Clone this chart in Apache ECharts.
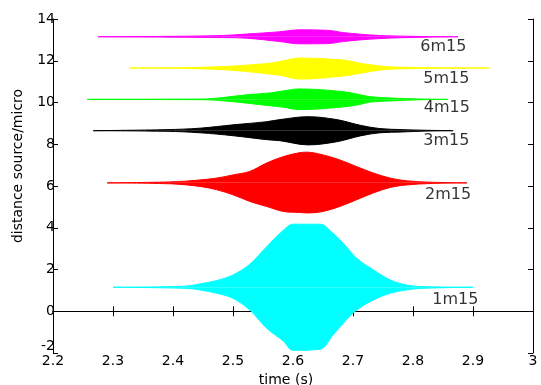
<!DOCTYPE html>
<html>
<head>
<meta charset="utf-8">
<script src="https://cdn.jsdelivr.net/npm/echarts@6/dist/echarts.min.js"></script>
<style>
  html, body { margin: 0; padding: 0; background: #fff; }
  #chart { width: 541px; height: 385px; }
</style>
</head>
<body>
<div id="chart"></div>
<script>
// tick labels
const xTicks = [2.2, 2.3, 2.4, 2.5, 2.6, 2.7, 2.8, 2.9, 3];
const yTicks = [-2, 0, 2, 4, 6, 8, 10, 12, 14];

// trace names, colours and baseline offsets
const traceNames = ["1m15", "2m15", "3m15", "4m15", "5m15", "6m15"];
const traceColors = ["#00ffff", "#ff0000", "#000000", "#00ff00", "#ffff00", "#ff00ff"];
const traceBase = [1.15, 6.15, 8.65, 10.15, 11.65, 13.15];

// envelope: time (s), amplitude above and below the baseline
const t1 = [2.30, 2.42, 2.445, 2.473, 2.50, 2.528, 2.556, 2.584, 2.60, 2.645, 2.667, 2.689, 2.706, 2.734, 2.762, 2.789, 2.817, 2.90];
const up1 = [0, 0.05, 0.16, 0.32, 0.59, 1.10, 1.94, 2.73, 3.02, 3.02, 2.58, 1.94, 1.39, 0.83, 0.35, 0.11, 0.03, 0];
const lo1 = [0, 0.05, 0.13, 0.29, 0.53, 1.09, 1.96, 2.58, 3.02, 2.97, 2.28, 1.56, 1.09, 0.61, 0.29, 0.13, 0.05, 0];

const t2 = [2.29, 2.40, 2.445, 2.473, 2.50, 2.528, 2.556, 2.584, 2.612, 2.623, 2.65, 2.678, 2.706, 2.734, 2.762, 2.789, 2.83, 2.89];
const up2 = [0, 0.05, 0.14, 0.23, 0.38, 0.55, 0.95, 1.26, 1.45, 1.47, 1.34, 1.10, 0.78, 0.47, 0.23, 0.10, 0.03, 0];
const lo2 = [0, 0.05, 0.17, 0.33, 0.57, 0.89, 1.13, 1.37, 1.42, 1.44, 1.37, 1.13, 0.81, 0.48, 0.22, 0.10, 0.03, 0];

const t3 = [2.267, 2.39, 2.445, 2.50, 2.556, 2.578, 2.625, 2.673, 2.712, 2.745, 2.783, 2.82, 2.867];
const up3 = [0, 0.05, 0.12, 0.28, 0.43, 0.53, 0.67, 0.53, 0.26, 0.10, 0.05, 0.02, 0];
const lo3 = [0, 0.03, 0.10, 0.24, 0.43, 0.48, 0.68, 0.53, 0.25, 0.10, 0.06, 0.02, 0];

const t4 = [2.257, 2.40, 2.456, 2.484, 2.523, 2.562, 2.585, 2.61, 2.684, 2.712, 2.728, 2.767, 2.81, 2.858];
const up4 = [0, 0.01, 0.02, 0.09, 0.22, 0.31, 0.41, 0.50, 0.37, 0.22, 0.13, 0.06, 0.02, 0];
const lo4 = [0, 0.01, 0.02, 0.07, 0.18, 0.31, 0.38, 0.49, 0.36, 0.24, 0.13, 0.07, 0.02, 0];

const t5 = [2.327, 2.42, 2.484, 2.523, 2.562, 2.578, 2.612, 2.684, 2.712, 2.744, 2.767, 2.82, 2.927];
const up5 = [0, 0.02, 0.07, 0.14, 0.23, 0.31, 0.48, 0.38, 0.23, 0.10, 0.05, 0.02, 0];
const lo5 = [0, 0.02, 0.08, 0.17, 0.29, 0.34, 0.53, 0.38, 0.25, 0.10, 0.05, 0.02, 0];

const t6 = [2.275, 2.40, 2.484, 2.523, 2.578, 2.61, 2.656, 2.684, 2.712, 2.744, 2.767, 2.82, 2.875];
const up6 = [0, 0.02, 0.06, 0.13, 0.24, 0.33, 0.31, 0.20, 0.12, 0.06, 0.04, 0.01, 0];
const lo6 = [0, 0.02, 0.04, 0.07, 0.23, 0.34, 0.33, 0.23, 0.15, 0.09, 0.06, 0.02, 0];

// text labels placed at data coordinates (left edge, vertical centre)
const labelX = [2.832, 2.82, 2.817, 2.818, 2.817, 2.812];
const labelY = [0.56, 5.58, 8.16, 9.73, 11.14, 12.68];

const times = [t1, t2, t3, t4, t5, t6];
const ups = [up1, up2, up3, up4, up5, up6];
const los = [lo1, lo2, lo3, lo4, lo5, lo6];

const font = '"DejaVu Sans", sans-serif';

let series = [];
traceNames.map((name, i) => {
  const base = traceBase[i];
  const color = traceColors[i];
  const edge = (vals, sign) => times[i].map((t, k) => [t, base + sign * vals[k]]);
  [edge(ups[i], 1), edge(los[i], -1)].forEach(d => {
    series.push({
      name: name,
      type: "line",
      data: d,
      showSymbol: false,
      smooth: 0.35,
      silent: true,
      lineStyle: { color: color, width: 1 },
      areaStyle: { color: color, opacity: 1, origin: base }
    });
  });
});

series.push({
  type: "scatter",
  symbolSize: 0,
  silent: true,
  data: traceNames.map((n, i) => ({ value: [labelX[i], labelY[i]], name: n })),
  label: {
    show: true,
    position: "right",
    distance: 0,
    formatter: p => p.name,
    color: "#000",
    fontFamily: font,
    fontSize: 16
  },
  z: 5
});

const fmt = v => String(+(+v).toFixed(1));

const option = {
  animation: false,
  backgroundColor: "#fff",
  grid: { left: 53, right: 8, top: 19, bottom: 32, outerBoundsMode: "none", containLabel: false },
  xAxis: [
    {
      type: "value",
      min: xTicks[0],
      max: xTicks[xTicks.length - 1],
      interval: 0.1,
      name: "time (s)",
      nameLocation: "middle",
      nameGap: 17,
      nameTextStyle: { color: "#000", fontFamily: font, fontSize: 14, padding: [0, 14, 0, 0] },
      axisLine: { lineStyle: { color: "#000", width: 1 } },
      axisTick: { inside: true, length: 5, lineStyle: { color: "#000" } },
      axisLabel: { color: "#000", fontFamily: font, fontSize: 14, margin: 1, formatter: fmt },
      splitLine: { show: false }
    },
    {
      type: "value",
      position: "top",
      min: xTicks[0],
      max: xTicks[xTicks.length - 1],
      interval: 0.1,
      axisLine: { show: true, lineStyle: { color: "#000", width: 1 } },
      axisTick: { inside: true, length: 5, lineStyle: { color: "#000" } },
      axisLabel: { show: false },
      splitLine: { show: false }
    }
  ],
  yAxis: [
    {
      type: "value",
      min: yTicks[0],
      max: yTicks[yTicks.length - 1],
      interval: 2,
      name: "distance source/micro",
      nameLocation: "middle",
      nameGap: 28,
      nameTextStyle: { color: "#000", fontFamily: font, fontSize: 14, padding: [0, 0, 0, 40] },
      axisLine: { lineStyle: { color: "#000", width: 1 } },
      axisTick: { inside: true, length: 5, lineStyle: { color: "#000" } },
      axisLabel: {
        color: "#000", fontFamily: font, fontSize: 14, margin: -2,
        verticalAlignMinLabel: "bottom"
      },
      splitLine: { show: false }
    },
    {
      type: "value",
      position: "right",
      min: yTicks[0],
      max: yTicks[yTicks.length - 1],
      interval: 2,
      axisLine: { show: true, lineStyle: { color: "#000", width: 1 } },
      axisTick: { inside: true, length: 5, lineStyle: { color: "#000" } },
      axisLabel: { show: false },
      splitLine: { show: false }
    }
  ],
  series: series
};

const chartObj = echarts.init(document.getElementById("chart"));
chartObj.setOption(option);
window.addEventListener("resize", function() {
  chartObj.resize();
});
</script>
</body>
</html>
